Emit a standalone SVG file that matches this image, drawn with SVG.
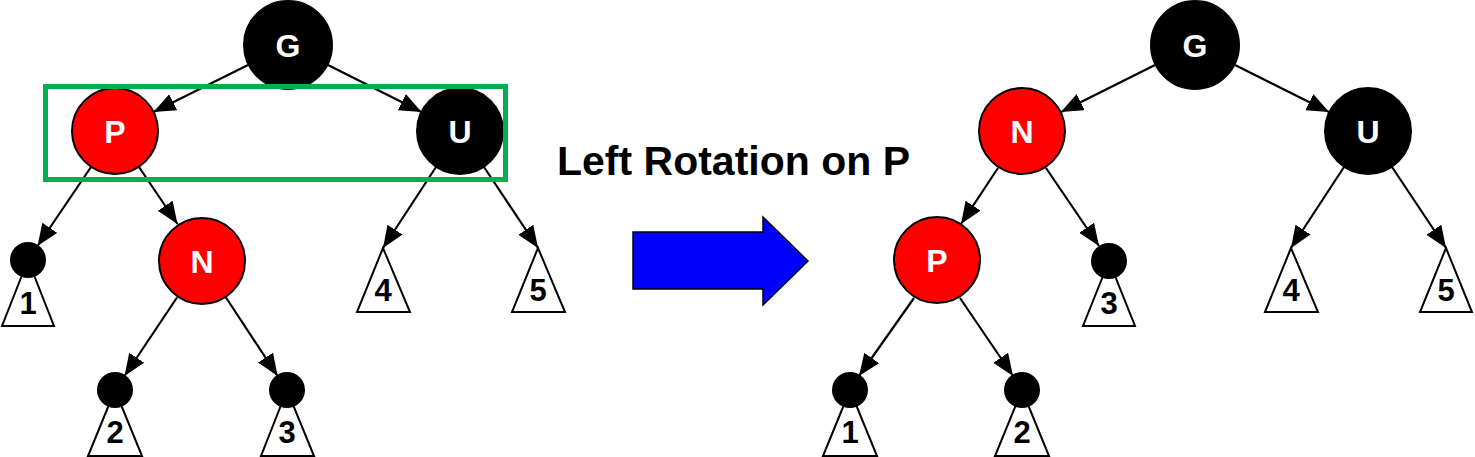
<svg xmlns="http://www.w3.org/2000/svg" width="1475" height="457" viewBox="0 0 1475 457">
<defs>
<marker id="ah" markerUnits="userSpaceOnUse" markerWidth="24" markerHeight="20" refX="22" refY="9" orient="auto">
<path d="M0,0 L22,9 L0,18 z" fill="#000"/>
</marker>
<style>
.edge{stroke:#000;stroke-width:2.2;fill:none;marker-end:url(#ah)}
.blk{fill:#000;stroke:#000;stroke-width:2}
.red{fill:#ff0000;stroke:#000;stroke-width:2}
.nl{font-family:"Liberation Sans",Arial,sans-serif;font-weight:bold;font-size:32px;fill:#fff;text-anchor:middle}
.tri{fill:#fff;stroke:#000;stroke-width:2;stroke-linejoin:miter}
.dot{fill:#000}
.ll{font-family:"Liberation Sans",Arial,sans-serif;font-weight:bold;font-size:31px;fill:#000;text-anchor:middle}
.title{font-family:"Liberation Sans",Arial,sans-serif;font-weight:bold;font-size:41px;fill:#000}
</style>
</defs>
<rect width="1475" height="457" fill="#fff"/>

<g id="connectors">
<!-- left tree -->
<line class="edge" x1="248" y1="65" x2="153.5" y2="112"/>
<line class="edge" x1="328" y1="65" x2="421.5" y2="112"/>
<line class="edge" x1="91" y1="167" x2="37.5" y2="246"/>
<line class="edge" x1="139" y1="167" x2="177.5" y2="224"/>
<line class="edge" x1="436" y1="167" x2="383" y2="248"/>
<line class="edge" x1="484" y1="167" x2="538" y2="248"/>
<line class="edge" x1="177" y1="297.5" x2="124.5" y2="376"/>
<line class="edge" x1="226" y1="297.5" x2="277.6" y2="376"/>
<!-- right tree -->
<line class="edge" x1="1155" y1="65" x2="1061" y2="112"/>
<line class="edge" x1="1235" y1="65" x2="1329" y2="112"/>
<line class="edge" x1="998" y1="168" x2="961" y2="224"/>
<line class="edge" x1="1046" y1="168" x2="1099" y2="246"/>
<line class="edge" x1="1344" y1="167" x2="1291" y2="248"/>
<line class="edge" x1="1392" y1="167" x2="1446" y2="248"/>
<line class="edge" x1="914" y1="298" x2="859" y2="376"/>
<line class="edge" x1="960" y1="298" x2="1013" y2="376"/>
</g>

<g id="L-G"><circle class="blk" cx="288" cy="45" r="44"/><text class="nl" x="288" y="57">G</text></g>
<g id="L-P"><circle class="red" cx="115" cy="131" r="43"/><text class="nl" x="115" y="143">P</text></g>
<g id="L-U"><circle class="blk" cx="460" cy="131" r="43"/><text class="nl" x="460" y="143">U</text></g>
<g id="L-N"><circle class="red" cx="202" cy="261" r="43"/><text class="nl" x="202" y="273">N</text></g>
<g id="L-1"><polygon class="tri" points="28,260 2,326 54,326"/><circle class="dot" cx="28" cy="260" r="18"/><text class="ll" x="28" y="314">1</text></g>
<g id="L-2"><polygon class="tri" points="115,390 88,456 142,456"/><circle class="dot" cx="115" cy="390" r="18"/><text class="ll" x="115" y="443">2</text></g>
<g id="L-3"><polygon class="tri" points="287,390 261,456 314,456"/><circle class="dot" cx="287" cy="390" r="18"/><text class="ll" x="287" y="443">3</text></g>
<g id="L-4"><polygon class="tri" points="383,248 357,312 410,312"/><text class="ll" x="383" y="301">4</text></g>
<g id="L-5"><polygon class="tri" points="538,248 512,312 565,312"/><text class="ll" x="538" y="301">5</text></g>

<g id="highlight"><rect x="45.5" y="86.5" width="460" height="93" fill="none" stroke="#00b050" stroke-width="5"/></g>

<g id="title"><text class="title" x="557" y="175">Left Rotation on P</text></g>
<g id="bigarrow"><polygon points="633,232 763,232 763,217 808,261 763,305 763,289 633,289" fill="#0000ff" stroke="#000" stroke-width="1.5"/></g>

<g id="R-G"><circle class="blk" cx="1195" cy="45" r="44"/><text class="nl" x="1195" y="57">G</text></g>
<g id="R-N"><circle class="red" cx="1022" cy="131" r="43"/><text class="nl" x="1022" y="143">N</text></g>
<g id="R-U"><circle class="blk" cx="1368" cy="131" r="43"/><text class="nl" x="1368" y="143">U</text></g>
<g id="R-P"><circle class="red" cx="937" cy="260" r="43"/><text class="nl" x="937" y="272">P</text></g>
<g id="R-3"><polygon class="tri" points="1109,261 1083,326 1135,326"/><circle class="dot" cx="1109" cy="261" r="18"/><text class="ll" x="1109" y="314">3</text></g>
<g id="R-1"><polygon class="tri" points="850,390 823,456 877,456"/><circle class="dot" cx="850" cy="390" r="18"/><text class="ll" x="850" y="443">1</text></g>
<g id="R-2"><polygon class="tri" points="1022,390 995,456 1049,456"/><circle class="dot" cx="1022" cy="390" r="18"/><text class="ll" x="1022" y="443">2</text></g>
<g id="R-4"><polygon class="tri" points="1291,248 1265,312 1318,312"/><text class="ll" x="1291" y="301">4</text></g>
<g id="R-5"><polygon class="tri" points="1446,248 1420,312 1472,312"/><text class="ll" x="1446" y="301">5</text></g>
</svg>
